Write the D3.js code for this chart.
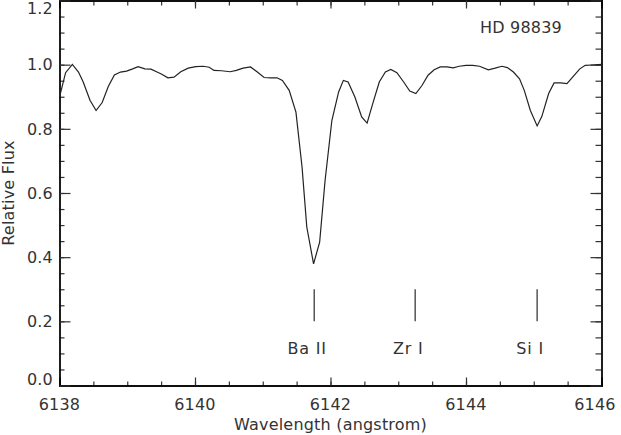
<!DOCTYPE html>
<html><head><meta charset="utf-8">
<script src="https://cdn.jsdelivr.net/npm/d3@7"></script>
<style>
html,body{margin:0;padding:0;background:#fff;}
svg{display:block;}
text{font-family:"DejaVu Sans",sans-serif;font-size:16px;fill:#333;letter-spacing:0.2px;}
</style></head>
<body>
<svg id="c" width="621" height="435"></svg>
<script>
// ---- data ----
const wavelength = [6138.00,6138.09,6138.19,6138.28,6138.35,6138.45,6138.54,6138.63,6138.72,6138.81,
  6138.90,6138.99,6139.08,6139.16,6139.26,6139.35,6139.44,6139.51,6139.60,6139.69,
  6139.79,6139.90,6140.01,6140.12,6140.21,6140.28,6140.39,6140.52,6140.61,6140.71,
  6140.82,6140.92,6141.02,6141.12,6141.21,6141.29,6141.39,6141.49,6141.58,6141.65,
  6141.75,6141.84,6141.92,6142.02,6142.12,6142.19,6142.26,6142.36,6142.46,6142.54,
  6142.63,6142.72,6142.81,6142.89,6142.98,6143.08,6143.17,6143.26,6143.35,6143.44,
  6143.53,6143.62,6143.72,6143.81,6143.90,6144.00,6144.10,6144.20,6144.33,6144.43,
  6144.53,6144.61,6144.70,6144.79,6144.86,6144.95,6145.05,6145.12,6145.22,6145.30,
  6145.40,6145.49,6145.58,6145.68,6145.76,6145.86,6146.00];
const flux = [0.899,0.975,1.001,0.977,0.946,0.889,0.857,0.882,0.932,0.968,
  0.977,0.980,0.987,0.994,0.987,0.986,0.977,0.970,0.959,0.961,
  0.978,0.989,0.994,0.995,0.992,0.982,0.981,0.978,0.982,0.989,
  0.993,0.977,0.960,0.959,0.959,0.951,0.920,0.852,0.681,0.494,
  0.379,0.447,0.639,0.826,0.915,0.951,0.946,0.899,0.837,0.818,
  0.883,0.946,0.977,0.985,0.975,0.946,0.918,0.910,0.935,0.967,
  0.984,0.993,0.993,0.990,0.995,0.998,0.998,0.995,0.984,0.989,
  0.995,0.991,0.977,0.956,0.920,0.857,0.809,0.839,0.910,0.943,
  0.943,0.941,0.963,0.987,0.998,0.999,1.001];
const lineNames = ["Ba II","Zr I","Si I"];
const lineWaves = [6141.76,6143.25,6145.05];
const markerFlux = [0.20,0.30];
const xTicks = [6138,6140,6142,6144,6146];
const yTicks = [0.0,0.2,0.4,0.6,0.8,1.0,1.2];
const starName = "HD 98839";
const xTitle = "Wavelength (angstrom)";
const yTitle = "Relative Flux";

// ---- layout ----
const L=59.5, R=601.5, T=0.5, B=385.5;
const svg = d3.select("#c");
const x = d3.scaleLinear().domain([6138,6146]).range([L,R]);
const y = d3.scaleLinear().domain([0,1.2]).range([B,T]);

const xMinor = d3.range(6138,6146.01,0.5);
const yMinor = d3.range(0,1.2001,0.05);

function axisLines(axisGen, transform, ticks, size){
  const g = svg.append("g").attr("transform",transform)
    .call(axisGen.tickValues(ticks).tickSize(size).tickFormat(""));
  g.select(".domain").attr("stroke","#000").attr("stroke-width",1.3);
  g.selectAll(".tick line").attr("stroke","#333").attr("stroke-width",1.2);
  return g;
}
// bottom
axisLines(d3.axisTop(x), `translate(0,${B})`, xMinor, 4);
axisLines(d3.axisTop(x), `translate(0,${B})`, xTicks, 8);
// top
axisLines(d3.axisBottom(x), `translate(0,${T})`, xMinor, 5);
axisLines(d3.axisBottom(x), `translate(0,${T})`, xTicks, 8);
// left
axisLines(d3.axisRight(y), `translate(${L},0)`, yMinor, 5);
axisLines(d3.axisRight(y), `translate(${L},0)`, yTicks, 11);
// right
axisLines(d3.axisLeft(y), `translate(${R},0)`, yMinor, 6);
axisLines(d3.axisLeft(y), `translate(${R},0)`, yTicks, 11);

// x tick labels (kept inside canvas)
svg.append("g").selectAll("text").data(xTicks).join("text")
  .attr("x", d => Math.min(x(d), 595))
  .attr("y", 410)
  .attr("text-anchor","middle")
  .text(d => d);
// y tick labels (kept inside canvas)
svg.append("g").selectAll("text").data(yTicks).join("text")
  .attr("x", 53)
  .attr("y", d => Math.max(8, Math.min(y(d), 379)))
  .attr("dy","0.36em")
  .attr("text-anchor","end")
  .text(d => d.toFixed(1));

// titles
svg.append("text").attr("x",(L+R)/2).attr("y",430).attr("text-anchor","middle").text(xTitle);
svg.append("text").attr("transform",`translate(14,${(T+B)/2}) rotate(-90)`)
  .attr("text-anchor","middle").text(yTitle);
svg.append("text").attr("x",480).attr("y",33).text(starName);

// spectrum
const pts = wavelength.map((w,i)=>[w,flux[i]]);
svg.append("path").datum(pts)
  .attr("fill","none").attr("stroke","#222").attr("stroke-width",1.2)
  .attr("d", d3.line().x(d=>x(d[0])).y(d=>y(d[1])));

// line markers
const mk = svg.append("g");
lineWaves.forEach((w,i)=>{
  mk.append("line").attr("x1",x(w)).attr("x2",x(w))
    .attr("y1",y(markerFlux[0])).attr("y2",y(markerFlux[1]))
    .attr("stroke","#555").attr("stroke-width",1.5);
  mk.append("text").attr("x",x(w)-7).attr("y",354).attr("text-anchor","middle")
    .style("letter-spacing","0.8px").text(lineNames[i]);
});
</script>
</body></html>
